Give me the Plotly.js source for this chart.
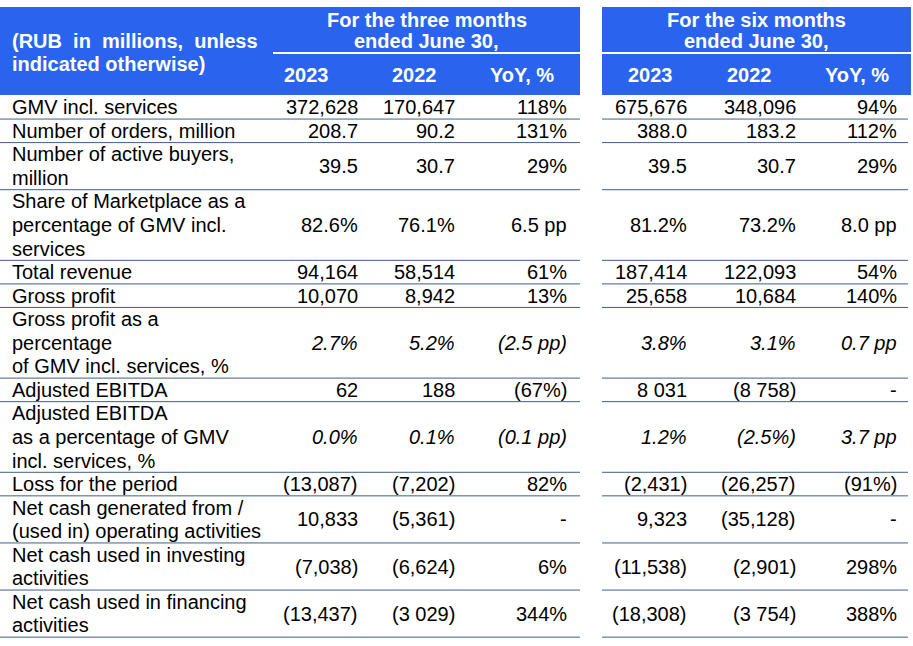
<!DOCTYPE html>
<html><head><meta charset="utf-8">
<script src="https://cdn.plot.ly/plotly-3.0.1.min.js"></script>
<style>html,body{margin:0;padding:0;background:#fff;}#chart{width:913px;height:646px;}</style>
</head><body><div id="chart"></div>
<script>
// ---------- DATA ----------
const rowLabels = [
  "GMV incl. services",
  "Number of orders, million",
  "Number of active buyers,\nmillion",
  "Share of Marketplace as a\npercentage of GMV incl.\nservices",
  "Total revenue",
  "Gross profit",
  "Gross profit as a\npercentage\nof GMV incl. services, %",
  "Adjusted EBITDA",
  "Adjusted EBITDA\nas a percentage of GMV\nincl. services, %",
  "Loss for the period",
  "Net cash generated from /\n(used in) operating activities",
  "Net cash used in investing\nactivities",
  "Net cash used in financing\nactivities"
];
const threeMonths2023 = ["372,628","208.7","39.5","82.6%","94,164","10,070","2.7%","62","0.0%","(13,087)","10,833","(7,038)","(13,437)"];
const threeMonths2022 = ["170,647","90.2","30.7","76.1%","58,514","8,942","5.2%","188","0.1%","(7,202)","(5,361)","(6,624)","(3 029)"];
const threeMonthsYoY  = ["118%","131%","29%","6.5 pp","61%","13%","(2.5 pp)","(67%)","(0.1 pp)","82%","-","6%","344%"];
const sixMonths2023   = ["675,676","388.0","39.5","81.2%","187,414","25,658","3.8%","8 031","1.2%","(2,431)","9,323","(11,538)","(18,308)"];
const sixMonths2022   = ["348,096","183.2","30.7","73.2%","122,093","10,684","3.1%","(8 758)","(2.5%)","(26,257)","(35,128)","(2,901)","(3 754)"];
const sixMonthsYoY    = ["94%","112%","29%","8.0 pp","54%","140%","0.7 pp","-","3.7 pp","(91%)","-","298%","388%"];
const italicRows = [false,false,false,false,false,false,true,false,true,false,false,false,false];
const unitNote = ["(RUB&nbsp;&nbsp;in&nbsp; millions,&nbsp; unless", "indicated otherwise)"];
const groupTitles = [["For the three months","ended June 30,"],["For the six months","ended June 30,"]];
const columnHeaders = ["2023","2022","YoY, %","2023","2022","YoY, %"];

// ---------- LAYOUT CONSTANTS ----------
const W = 913, H = 646;
const BLUE = "#2a64ee", RULE = "#3e5f87";
const FONT = "Liberation Sans, Arial, sans-serif";
const headTop = 7, headMid = 53, headBot = 95;
const bodyTop = 95.5, lineH = 23.55;
const blocks = [{x0: 0, x1: 580, g0: 273, r1: 580}, {x0: 602, x1: 911, g0: 602, r1: 908}];
const colRight = [358, 455, 567, 687, 796, 897];
const colCenter = [306, 414, 522, 650, 749, 857];
const labelX = 12;
const valueColumns = [threeMonths2023, threeMonths2022, threeMonthsYoY, sixMonths2023, sixMonths2022, sixMonthsYoY];

const shapes = [], annotations = [];
function ann(text, x, y, anchor, opts) {
  annotations.push(Object.assign({
    text: text, x: x, y: y, xref: "x", yref: "y", xanchor: anchor, yanchor: "middle",
    showarrow: false, borderpad: 0, borderwidth: 0,
    font: {family: FONT, size: 20, color: "#000"}
  }, opts || {}));
}
const headFont = {family: FONT, size: 20, color: "#fff"};

// header blocks
blocks.forEach((b, i) => {
  shapes.push({type: "rect", xref: "x", yref: "y", x0: b.x0, x1: b.x1, y0: headTop, y1: headBot, fillcolor: BLUE, line: {width: 0}, layer: "below"});
  shapes.push({type: "line", xref: "x", yref: "y", x0: b.g0, x1: b.x1, y0: headMid, y1: headMid, line: {color: "#fff", width: 2}});
  const cx = (b.g0 + b.x1) / 2;
  groupTitles[i].forEach((t, k) => ann("<b>" + t + "</b>", cx, headTop + 12.5 + k * 21.5, "center", {font: headFont}));
});
unitNote.forEach((t, k) => ann("<b>" + t + "</b>", labelX, 41 + k * 23, "left", {font: headFont}));
columnHeaders.forEach((t, c) => ann("<b>" + t + "</b>", colCenter[c], 75, "center", {font: headFont}));

// body
let rowTop = bodyTop;
rowLabels.forEach((lab, r) => {
  const lines = lab.split("\n");
  const h = lines.length * lineH;
  lines.forEach((ln, k) => ann(ln, labelX, rowTop + (k + 0.5) * lineH, "left"));
  valueColumns.forEach((col, c) => {
    const v = italicRows[r] ? "<i>" + col[r] + "</i>" : col[r];
    ann(v, colRight[c], rowTop + h / 2, "right");
  });
  rowTop += h;
  blocks.forEach(b => shapes.push({type: "line", xref: "x", yref: "y", x0: b.x0, x1: b.r1, y0: rowTop, y1: rowTop, line: {color: RULE, width: 1}}));
});

const layout = {
  width: W, height: H, margin: {l: 0, r: 0, t: 0, b: 0},
  paper_bgcolor: "#fff", plot_bgcolor: "#fff", showlegend: false,
  xaxis: {range: [0, W], visible: false, fixedrange: true},
  yaxis: {range: [H, 0], visible: false, fixedrange: true},
  shapes: shapes, annotations: annotations
};
Plotly.newPlot("chart", [{x: [], y: [], type: "scatter", mode: "markers", hoverinfo: "skip"}], layout, {staticPlot: true, displayModeBar: false});
</script></body></html>
